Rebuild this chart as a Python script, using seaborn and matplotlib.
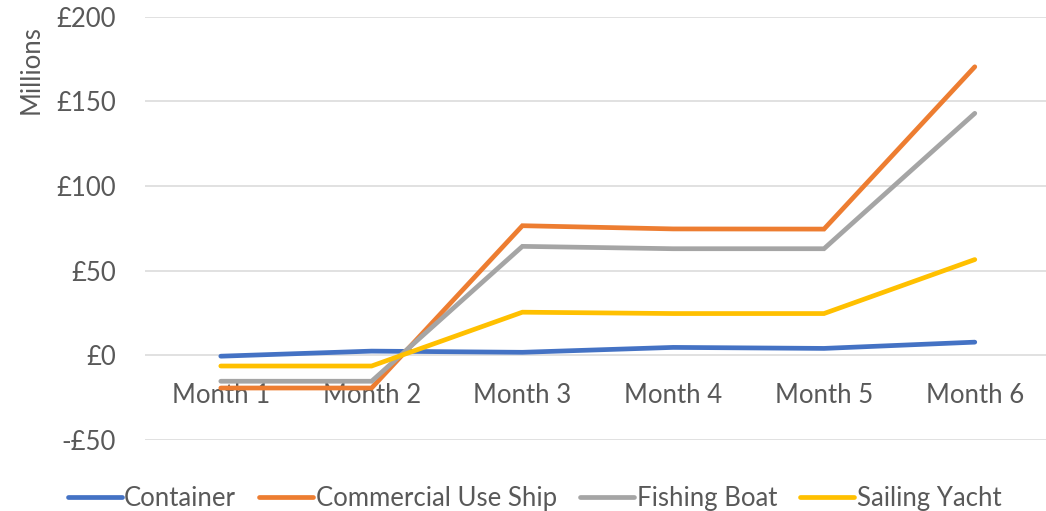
import pandas as pd
import numpy as np
import matplotlib
matplotlib.use("Agg")
from matplotlib import pyplot as plt
from matplotlib.ticker import FuncFormatter
import seaborn as sns

months = ["Month 1", "Month 2", "Month 3", "Month 4", "Month 5", "Month 6"]
container = [-0.5, 2.5, 1.8, 4.7, 4.1, 7.8]
commercial = [-19.3, -19.3, 76.6, 74.7, 74.6, 170.5]
fishing = [-15.3, -15.3, 64.4, 63.0, 63.0, 143.0]
sailing = [-6.3, -6.3, 25.5, 24.7, 24.7, 56.6]

series_names = ["Container", "Commercial Use Ship", "Fishing Boat", "Sailing Yacht"]
colors = ["#4472C4", "#ED7D31", "#A5A5A5", "#FFC000"]

df = pd.DataFrame({
    "month": months * 4,
    "value": container + commercial + fishing + sailing,
    "series": np.repeat(series_names, len(months)),
})

sns.set_style("white")
plt.rcParams["font.family"] = ["Lato", "DejaVu Sans"]
text_color = "#595959"
fs = 18.5

fig = plt.figure(figsize=(10.46, 5.11), dpi=100)
ax = fig.add_axes([0.139, 0.139, 0.865, 0.828])

sns.lineplot(data=df, x="month", y="value", hue="series", palette=colors,
             linewidth=3.4, ax=ax, legend=False, sort=False)
for line in ax.lines:
    line.set_solid_capstyle("round")
    line.set_solid_joinstyle("miter")

ax.set_xlim(-0.5, 5.5)
ax.set_ylim(-50, 200)
ax.set_yticks([-50, 0, 50, 100, 150, 200])
ax.yaxis.set_major_formatter(FuncFormatter(lambda v, p: f"-£{abs(int(v))}" if v < 0 else f"£{int(v)}"))
ax.grid(axis="y", color="#D9D9D9", linewidth=1.1)
ax.set_axisbelow(True)
for s in ["top", "right", "left"]:
    ax.spines[s].set_visible(False)
ax.spines["bottom"].set_position(("data", 0))
ax.spines["bottom"].set_visible(False)
ax.tick_params(axis="x", length=0, pad=20, labelsize=fs, labelcolor=text_color)
ax.tick_params(axis="y", length=0, pad=21, labelsize=fs, labelcolor=text_color)
ax.set_xlabel("")
ax.set_ylabel("Millions", fontsize=fs, color=text_color)
ax.yaxis.set_label_coords(-0.112, 0.875)

handles = [plt.Line2D([], [], color=c, linewidth=3.4, solid_capstyle="round") for c in colors]
fig.legend(handles, series_names, loc="lower center", ncol=4, frameon=False,
           bbox_to_anchor=(0.511, -0.045), fontsize=fs, labelcolor=text_color,
           handlelength=2.1, handletextpad=0.1, columnspacing=0.9)

fig.savefig("out.png", dpi=100)
